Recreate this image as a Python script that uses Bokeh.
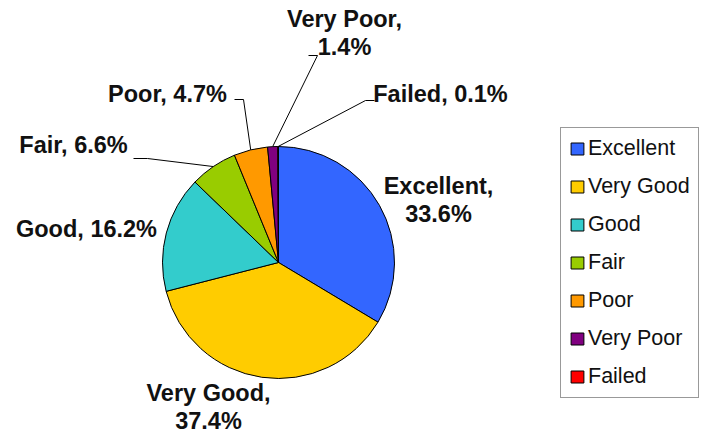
import math
from bokeh.plotting import figure
from bokeh.models import ColumnDataSource, Range1d, Legend, LegendItem
from bokeh.core.properties import value
from bokeh.embed import file_html
from bokeh.resources import INLINE

# ---- data ----
categories = ["Excellent", "Very Good", "Good", "Fair", "Poor", "Very Poor", "Failed"]
percents = [33.6, 37.4, 16.2, 6.6, 4.7, 1.4, 0.1]
colors = ["#3366FF", "#FFCC00", "#33CCCC", "#99CC00", "#FF9900", "#800080", "#FF0000"]

# ---- layout (screen px) ----
W, H = 704, 438
def X(sx): return sx
def Y(sy): return H - sy

CX, CY, R = X(278), Y(262), 116
FONT = "Liberation Sans"

# label layout: (center x, first-line center y, two-line?)
label_layout = {
    "Excellent": (438, 185, True),
    "Very Good": (208, 392, True),
    "Good": (86, 228, False),
    "Fair": (73, 144, False),
    "Poor": (167, 93, False),
    "Very Poor": (344, 18, True),
    "Failed": (440, 93, False),
}
LINE_GAP = 28
# leader elbows: (label-side start, elbow)
leaders = {
    "Fair": [(133, 158), (147, 158)],
    "Poor": [(234, 99), (243, 99)],
    "Very Poor": [(308, 55), (317, 55)],
    "Failed": [(374, 100), (365, 100)],
}

# ---- angles ----
starts, ends, mids = [], [], []
cum = 0.0
total = sum(percents)
for v in percents:
    a0 = math.pi / 2 - 2 * math.pi * cum / total
    cum += v
    a1 = math.pi / 2 - 2 * math.pi * cum / total
    starts.append(a0); ends.append(a1); mids.append((a0 + a1) / 2)

src = ColumnDataSource(dict(cat=categories, pct=percents, color=colors,
                            start=starts, end=ends))

p = figure(width=W, height=H, output_backend="svg", toolbar_location=None,
           x_range=Range1d(0, W), y_range=Range1d(0, H),
           x_axis_type=None, y_axis_type=None,
           min_border=0, min_border_left=0, min_border_right=0,
           min_border_top=0, min_border_bottom=0)
p.grid.visible = False
p.outline_line_color = None
p.background_fill_color = "white"
p.border_fill_color = "white"

wr = p.wedge(x=CX, y=CY, radius=R, start_angle="start", end_angle="end",
             direction="clock", source=src, fill_color="color",
             line_color="black", line_width=1)

# leader lines
for cat, pts in leaders.items():
    i = categories.index(cat)
    ex = CX + R * math.cos(mids[i])
    ey = CY + R * math.sin(mids[i])
    xs = [X(pts[0][0]), X(pts[1][0]), ex]
    ys = [Y(pts[0][1]), Y(pts[1][1]), ey]
    p.line(xs, ys, line_color="black", line_width=1)

# labels
tx, ty, tt = [], [], []
for cat, v in zip(categories, percents):
    lx, ly, two = label_layout[cat]
    if two:
        tx += [X(lx), X(lx)]; ty += [Y(ly), Y(ly + LINE_GAP)]
        tt += [f"{cat},", f"{v}%"]
    else:
        tx.append(X(lx)); ty.append(Y(ly)); tt.append(f"{cat}, {v}%")
p.text(x=tx, y=ty, text=tt, text_align="center", text_baseline="middle",
       text_font=value(FONT), text_font_style="bold", text_font_size="23.5px",
       text_color="#111111")

items = [LegendItem(label=c, renderers=[wr], index=i) for i, c in enumerate(categories)]
legend = Legend(items=items, location=(X(560), Y(398)),
                label_text_font=FONT, label_text_font_size="21.5px",
                label_text_color="#111111",
                glyph_width=16, glyph_height=15, label_standoff=3,
                spacing=13, padding=8, margin=0,
                border_line_color="#333333", border_line_width=1,
                background_fill_color="white", background_fill_alpha=1)
p.add_layout(legend)

open("out.html", "w").write(file_html(p, INLINE))
